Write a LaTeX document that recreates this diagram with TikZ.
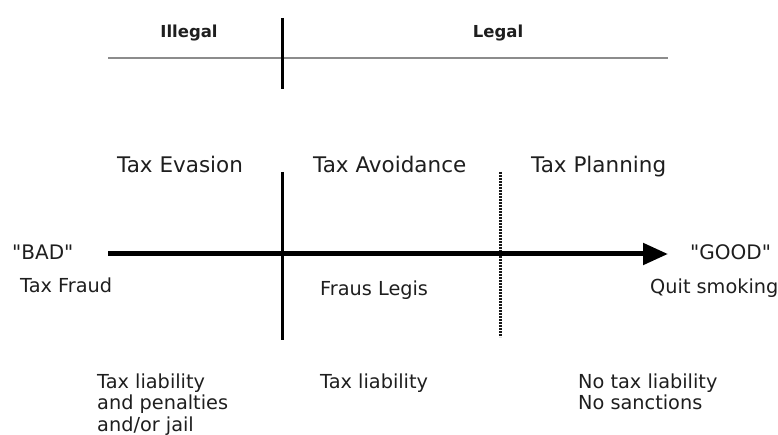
\documentclass[tikz,border=0pt]{standalone}
\usepackage{fontspec}
\setmainfont{DejaVu Sans}[Ligatures=TeXOff]
\usetikzlibrary{arrows.meta}
\definecolor{ink}{HTML}{1E1E1E}
\definecolor{rule}{HTML}{8C8C8C}
\tikzset{
  lbl/.style={inner sep=0pt, anchor=base west, text=ink, font=\fontsize{19.3}{21.5}\selectfont, align=left},
  multi/.style={lbl, anchor=north west},
  head/.style={lbl, font=\fontsize{21.5}{24}\selectfont},
  quote/.style={lbl, font=\fontsize{20}{24}\selectfont},
  toplbl/.style={inner sep=0pt, anchor=base, text=ink, font=\fontsize{16.5}{20}\selectfont\bfseries},
  divider/.style={line width=3pt, draw=black},
  dotdiv/.style={line width=3pt, draw=black!90, dash pattern=on 1.8pt off 1.2pt},
  grayline/.style={line width=2.5pt, draw=rule},
  mainarrow/.style={line width=5pt, draw=black, -{Triangle[length=25pt,width=21pt]}}
}
\begin{document}
\begin{tikzpicture}[x=1pt,y=-1pt]
\useasboundingbox (0,0) rectangle (778,435);
% top legal/illegal band
\coordinate (gl) at (108,58);
\coordinate (gr) at (668,58);
\coordinate (tvt) at (282,18);
\coordinate (tvb) at (282,89);
\draw[grayline] (gl) -- (gr);
\draw[divider] (tvt) -- (tvb);
\node[toplbl] (illegal) at (189,38) {Illegal};
\node[toplbl] (legal) at (498,38) {Legal};
% headings
\node[head] (evasion) at (117,173) {Tax Evasion};
\node[head] (avoid) at (313,173) {Tax Avoidance};
\node[head] (plan) at (531,173) {Tax Planning};
% dividers
\coordinate (v1t) at (282,172);
\coordinate (v1b) at (282,340);
\coordinate (v2t) at (500,172);
\coordinate (v2b) at (500,337);
\draw[divider] (v1t) -- (v1b);
\draw[dotdiv] (v2t) -- (v2b);
% arrow
\coordinate (as) at (108,254);
\coordinate (ae) at (668,254);
\draw[mainarrow] (as) -- (ae);
\node[quote] (bad) at (12,260) {"BAD"};
\node[quote] (good) at (690,260) {"GOOD"};
\node[lbl] (fraud) at (20,293) {Tax Fraud};
\node[lbl] (fraus) at (320,295) {Fraus Legis};
\node[lbl] (quit) at (650,294) {Quit smoking};
% bottom
\node[multi] (c1) at (97,373.5) {Tax liability\\and penalties\\and/or jail};
\node[lbl] (c2) at (320,388) {Tax liability};
\node[multi] (c3) at (578,373.5) {No tax liability\\No sanctions};
\end{tikzpicture}
\end{document}
